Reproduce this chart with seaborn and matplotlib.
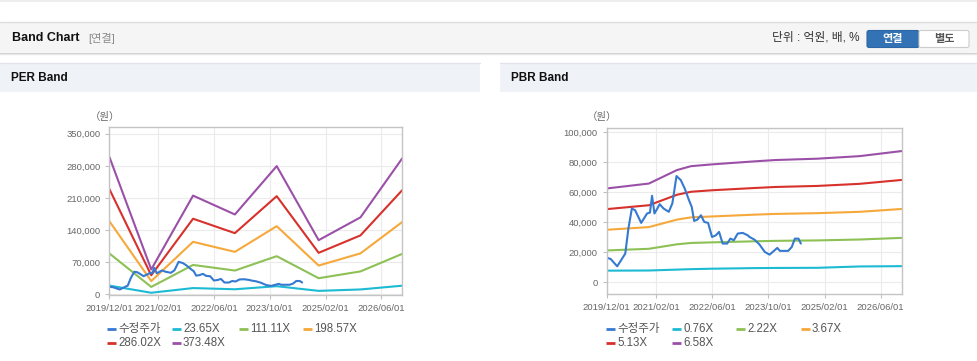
import pandas as pd
import matplotlib.pyplot as plt
import matplotlib.dates as mdates
from matplotlib.patches import Rectangle, FancyBboxPatch
from matplotlib.ticker import FuncFormatter
import seaborn as sns

# ---- data ----
price_dates = ['2019-12-01', '2020-01-04', '2020-03-01', '2020-05-10', '2020-06-06', '2020-07-06',
               '2020-08-03', '2020-09-25', '2020-11-15', '2020-12-10', '2020-12-28', '2021-01-18',
               '2021-02-12', '2021-03-04', '2021-04-07', '2021-05-22', '2021-06-22', '2021-07-28',
               '2021-09-03', '2021-10-07', '2021-11-13', '2021-12-07', '2021-12-28', '2022-01-25',
               '2022-02-25', '2022-03-25', '2022-04-28', '2022-06-01', '2022-07-04', '2022-08-01',
               '2022-09-01', '2022-10-10', '2022-11-07', '2022-12-07', '2023-01-10', '2023-02-22',
               '2023-04-07', '2023-04-22', '2023-06-04', '2023-07-16', '2023-09-01', '2023-10-13',
               '2023-11-25', '2023-12-19', '2024-01-10', '2024-03-22', '2024-04-22', '2024-05-19',
               '2024-06-19', '2024-07-10']
price = [16300, 15400, 10500, 19000, 35700, 49100, 48000, 39500, 45800, 46400,
         57600, 45800, 49100, 52000, 49100, 46900, 52500, 70800, 68100, 62500,
         54700, 50200, 40800, 41700, 44600, 40200, 39500, 30100, 31200, 33500,
         25700, 25700, 29000, 27900, 32400, 32800, 31200, 30100, 28300, 25200,
         20100, 18300, 21200, 22800, 20800, 20800, 23400, 29000, 29000, 25700]

per_dates = ['2019-12-01', '2020-12-01', '2021-12-01', '2022-12-01',
             '2023-12-01', '2024-12-01', '2025-12-01', '2026-12-01']
per_labels = ['23.65X', '111.11X', '198.57X', '286.02X', '373.48X']
per_1 = [19000, 3400, 13600, 11000, 17700, 7500, 10600, 18800]
per_2 = [89200, 16100, 64000, 51800, 83100, 35100, 49900, 88200]
per_3 = [159500, 28800, 114400, 92500, 148500, 62700, 89200, 157700]
per_4 = [229700, 41500, 164700, 133300, 213900, 90400, 128400, 227100]
per_5 = [299900, 54150, 215100, 174000, 279400, 118000, 167700, 296500]

pbr_dates = ['2019-12-01', '2020-12-01', '2021-08-01', '2021-12-01', '2022-06-01',
             '2023-06-01', '2023-12-01', '2024-12-01', '2025-12-01', '2026-12-01']
pbr_labels = ['0.76X', '2.22X', '3.67X', '5.13X', '6.58X']
pbr_1 = [7600, 7700, 8300, 8600, 8900, 9300, 9400, 9500, 10400, 10600]
pbr_2 = [21100, 22200, 25200, 26100, 26500, 27200, 27500, 27800, 28400, 29500]
pbr_3 = [34900, 36700, 41700, 43200, 43800, 45000, 45500, 46000, 46900, 48800]
pbr_4 = [48700, 51300, 58300, 60300, 61300, 62800, 63500, 64200, 65600, 68200]
pbr_5 = [62500, 65800, 74800, 77400, 78600, 80600, 81500, 82400, 84100, 87500]

xtick_dates = ['2019-12-01', '2021-02-01', '2022-06-01', '2023-10-01', '2025-02-01', '2026-06-01']
per_yticks = [0, 70000, 140000, 210000, 280000, 350000]
pbr_yticks = [0, 20000, 40000, 60000, 80000, 100000]

price_name = '수정주가'
colors = ['#3579d1', '#1dbad3', '#8dc155', '#f6a83a', '#d7312c', '#9b50a8']

sns.set_theme(style='white')
plt.rcParams['font.family'] = ['Liberation Sans', 'Noto Sans CJK KR', 'DejaVu Sans']

fig = plt.figure(figsize=(9.78, 3.61), dpi=100)

# page decoration in pixel coordinates
bg = fig.add_axes([0, 0, 1, 1], zorder=-1)
bg.set_xlim(0, 978)
bg.set_ylim(361, 0)
bg.axis('off')

bg.add_patch(Rectangle((0, 0), 978, 2, fc='#eeeeee', ec='none'))
bg.add_patch(Rectangle((0, 22), 978, 30, fc='#f5f5f5', ec='none'))
bg.plot([0, 978], [22, 22], color='#dddddd', lw=1)
bg.plot([0, 978], [52.5, 52.5], color='#cfcfcf', lw=1)
bg.plot([0, 978], [53.5, 53.5], color='#e8e8e8', lw=1)
bg.text(12, 38, 'Band Chart', fontsize=9, fontweight='bold', color='#111', va='center')
bg.text(88, 38, '[연결]', fontsize=8, color='#8a8a8a', va='center')
bg.text(860, 38, '단위 : 억원, 배, %', fontsize=8.5, color='#333', va='center', ha='right')
bg.add_patch(FancyBboxPatch((867, 30.5), 52, 17, boxstyle='round,pad=0,rounding_size=2',
                            fc='#3373b5', ec='#2d67a3', lw=0.8))
bg.add_patch(FancyBboxPatch((919, 30.5), 50, 17, boxstyle='round,pad=0,rounding_size=2',
                            fc='white', ec='#cccccc', lw=0.8))
bg.text(893, 39, '연결', fontsize=8, fontweight='bold', color='white', va='center', ha='center')
bg.text(944, 39, '별도', fontsize=8, fontweight='bold', color='#555', va='center', ha='center')

for x0, w, title in [(0, 480, 'PER Band'), (500, 478, 'PBR Band')]:
    bg.add_patch(Rectangle((x0, 63), w, 29, fc='#eff2f7', ec='none'))
    bg.plot([x0, x0 + w], [63, 63], color='#e1e5eb', lw=1)
    bg.text(x0 + 11, 78, title, fontsize=8.5, fontweight='bold', color='#111', va='center')


def draw_panel(rect, band_dates, bands, labels, ylim, yticks, unit_x, legend_x):
    ax = fig.add_axes(rect)
    rows = []
    for lab, vals in zip(labels, bands):
        for d, v in zip(band_dates, vals):
            rows.append({'date': pd.Timestamp(d), 'value': v, 'series': lab})
    for d, v in zip(price_dates, price):
        rows.append({'date': pd.Timestamp(d), 'value': v, 'series': price_name})
    df = pd.DataFrame(rows)
    names = [price_name] + labels
    pal = dict(zip(names, colors))
    sns.lineplot(data=df, x='date', y='value', hue='series', hue_order=labels + [price_name],
                 palette=pal, legend=False, linewidth=1.5, ax=ax)
    ax.set_xlim(pd.Timestamp('2019-12-01'), pd.Timestamp('2026-12-01'))
    ax.set_ylim(*ylim)
    ax.set_xticks(pd.to_datetime(xtick_dates))
    ax.xaxis.set_major_formatter(mdates.DateFormatter('%Y/%m/%d'))
    ax.set_yticks(yticks)
    ax.yaxis.set_major_formatter(FuncFormatter(lambda v, _: f'{int(v):,}'))
    ax.set_xlabel('')
    ax.set_ylabel('')
    ax.grid(True, color='#ebebeb', lw=0.8)
    ax.set_axisbelow(True)
    ax.tick_params(labelsize=6.8, labelcolor='#666', color='#c0c0c0', length=3, width=0.8,
                   left=True, bottom=True, pad=3.5)
    for s in ax.spines.values():
        s.set_color('#c4c4c4')
        s.set_linewidth(1.0)
    bg.text(unit_x, 117, '（원）', fontsize=7.5, color='#666', va='center', ha='center')

    # legend, four columns
    for i, name in enumerate(names):
        lx = legend_x[i % 4]
        ly = 329 if i < 4 else 343
        bg.plot([lx, lx + 9], [ly, ly], color=pal[name], lw=2, solid_capstyle='butt')
        bg.text(lx + 11, ly, name, fontsize=8.3, color='#555', va='center')
    return ax


draw_panel([109.3 / 978, 66 / 361, 293 / 978, 168 / 361], per_dates,
           [per_1, per_2, per_3, per_4, per_5], per_labels,
           (-1500, 364600), per_yticks, 105, [107, 172, 239, 303])
draw_panel([606.7 / 978, 66.7 / 361, 295 / 978, 166.6 / 361], pbr_dates,
           [pbr_1, pbr_2, pbr_3, pbr_4, pbr_5], pbr_labels,
           (-8200, 103100), pbr_yticks, 602, [606, 672, 736, 801])

fig.savefig('out.png', dpi=100)
